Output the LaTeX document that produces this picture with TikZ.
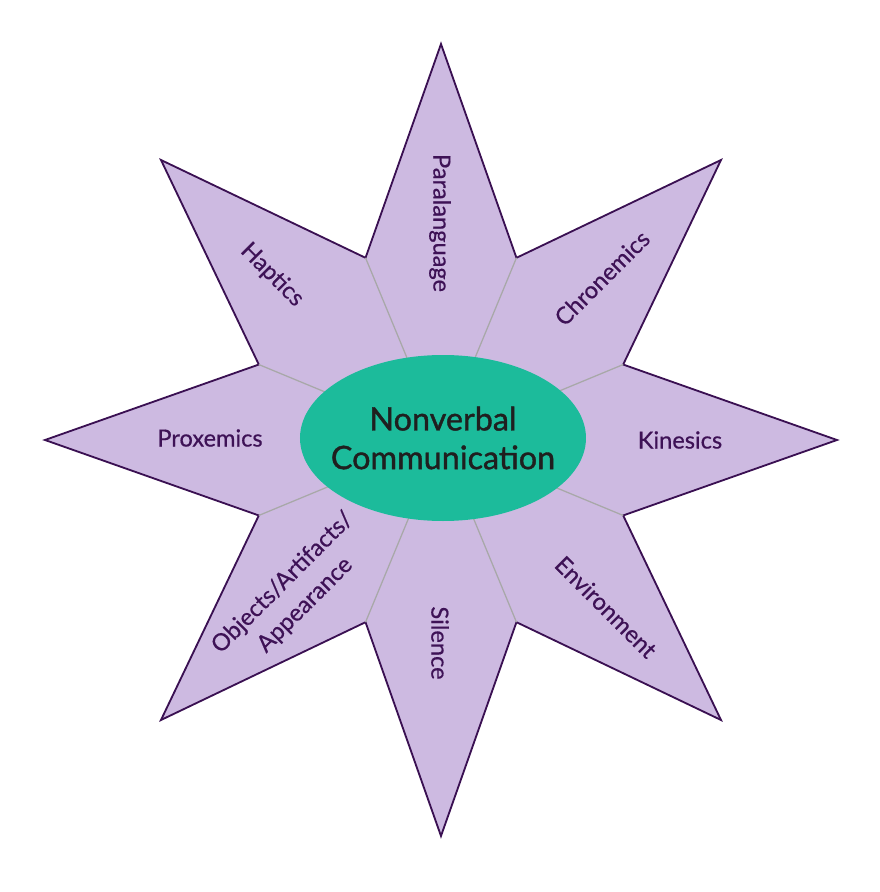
\documentclass[tikz,border=0pt]{standalone}
\usepackage{fontspec}
\setmainfont{Lato}
\newfontface\hubface{Lato}[FakeBold=1.2]
\newfontface\pointface{Lato}[FakeBold=0.5]
\usetikzlibrary{shapes.geometric, calc}
\definecolor{starfill}{RGB}{205,186,225}
\definecolor{starline}{RGB}{58,16,82}
\definecolor{labeltext}{RGB}{62,18,86}
\definecolor{hubfill}{RGB}{28,187,155}
\definecolor{spoke}{RGB}{168,168,168}
\tikzstyle{star} = [fill=starfill, draw=starline, line width=1.3pt, line join=miter]
\tikzstyle{spokeline} = [draw=spoke, line width=0.9pt]
\tikzstyle{hub} = [ellipse, fill=hubfill, minimum width=7.15cm, minimum height=4.15cm, inner sep=0pt]
\tikzstyle{hubtext} = [align=center, inner sep=0pt, text=black!88, font=\hubface\fontsize{23}{27.5}\selectfont]
\tikzstyle{point} = [text=labeltext, align=center, inner sep=0pt, font=\pointface\fontsize{16.8}{22.5}\selectfont]

\begin{document}
\begin{tikzpicture}
\useasboundingbox (-11.025,-11.3) rectangle (10.975,11);

\draw [star] (90:9.9) \foreach \k in {0,...,7} { -- ({67.5-45*\k}:4.93) -- ({45-45*\k}:9.9) } -- cycle;

\foreach \k in {0,...,7} \coordinate (notch\k) at ({67.5-45*\k}:4.93);
\coordinate (mid) at (0,0);
\foreach \k in {0,...,7} \draw [spokeline] (notch\k) -- (mid);

\node (hub) [hub] at (0.05,0.05) {};
\node (center) [hubtext] at (hub) {Nonverbal\\Communication};

\node (paralanguage) [point, rotate=-90] at (-0.025,5.425) {Paralanguage};
\node (chronemics) [point, rotate=45] at (4.025,4.05) {Chronemics};
\node (kinesics) [point] at (5.975,0) {Kinesics};
\node (environment) [point, rotate=-45] at (4.125,-4.175) {Environment};
\node (silence) [point, rotate=-90] at (-0.025,-5.075) {Silence};
\node (objects) [point, rotate=45] at (-3.675,-3.85) {Objects/Artifacts/\\Appearance};
\node (proxemics) [point] at (-5.775,0.05) {Proxemics};
\node (haptics) [point, rotate=-45] at (-4.225,4.125) {Haptics};

\end{tikzpicture}
\end{document}
